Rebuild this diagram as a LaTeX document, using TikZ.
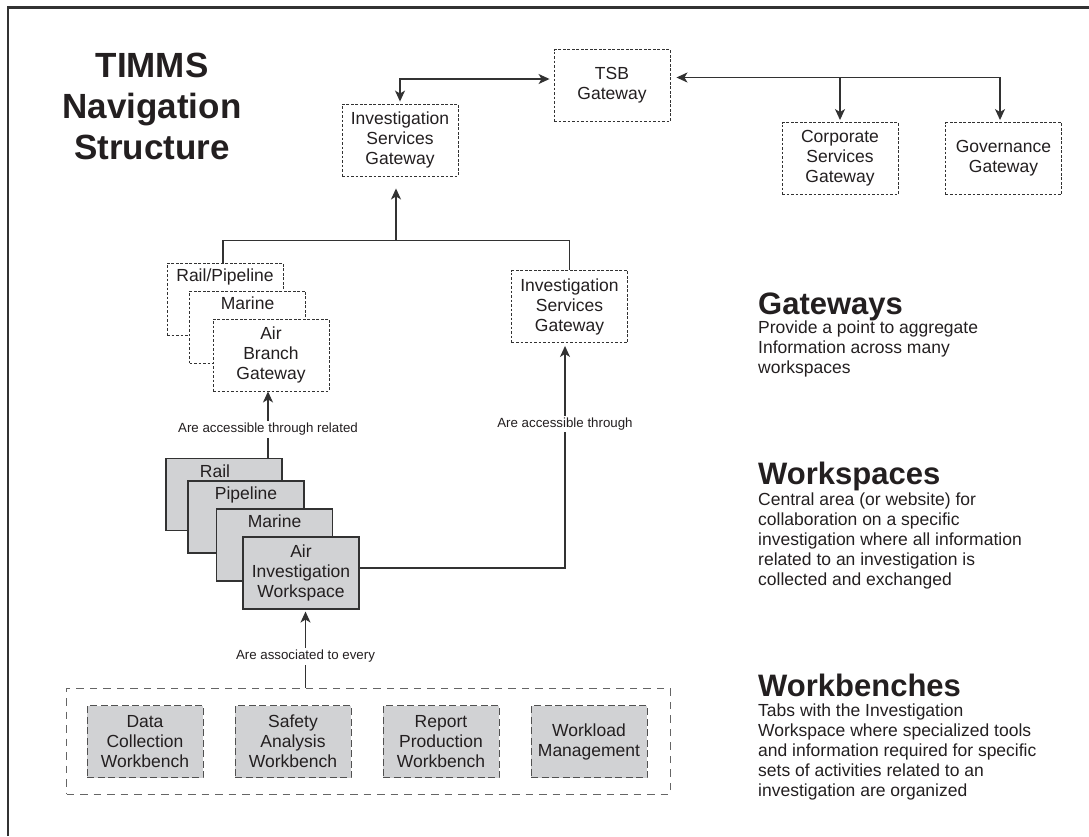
\documentclass[tikz,border=0pt]{standalone}
\usepackage{fontspec}
\setmainfont{Liberation Sans}
\usetikzlibrary{arrows.meta, positioning, calc}
\definecolor{inkgray}{RGB}{35,31,32}
\definecolor{linegray}{RGB}{50,50,50}
\definecolor{wsfill}{RGB}{209,210,212}
\def\boxfont{\fontsize{17.5}{20}\selectfont}
\def\notefont{\fontsize{13.3}{15}\selectfont}
\def\tip{Stealth[length=11pt, width=10pt, inset=3pt]}
\tikzset{gate/.style={draw=linegray, line width=0.9pt, dash pattern=on 2.6pt off 1.9pt, fill=white,
  minimum width=116pt, minimum height=72pt, inner sep=0pt, align=center, font=\boxfont}}
\tikzset{wspace/.style={draw=linegray, line width=1.1pt, fill=wsfill,
  minimum width=116pt, minimum height=72pt, inner sep=0pt, align=center, font=\boxfont}}
\tikzset{benchbox/.style={draw=linegray!85, line width=1pt, dash pattern=on 7pt off 3.5pt, fill=wsfill,
  minimum width=116pt, minimum height=72pt, inner sep=0pt, align=center, font=\boxfont}}
\tikzset{tabtext/.style={font=\boxfont, inner sep=0pt}}
\tikzset{conn/.style={draw=linegray, line width=1.4pt}}
\tikzset{arr/.style={conn, -{\tip}, shorten >=2pt}}
\tikzset{twoway/.style={conn, {\tip}-{\tip}}}
\tikzset{note/.style={fill=white, inner sep=2pt, font=\notefont}}
\tikzset{head/.style={anchor=base west, inner sep=0pt, font=\bfseries\fontsize{31}{36}\selectfont}}
\tikzset{desc/.style={anchor=base west, inner sep=0pt, font=\boxfont}}

\begin{document}
\begin{tikzpicture}[x=1pt, y=-1pt, text=inkgray]
  \useasboundingbox (0,0) rectangle (1089,836);
  % Frame
  \draw[linegray, line width=2.2pt] (8,836) -- (8,7.5) -- (1089,7.5);

  % Title
  \node[font=\bfseries\fontsize{35}{41}\selectfont, align=center] (title) at (152,106)
    {TIMMS\\Navigation\\Structure};

  % Top gateways
  \node[gate] (tsb) at (612,85.5) {TSB\\Gateway};
  \node[gate] (isgtop) at (400,140) {Investigation\\Services\\Gateway};
  \node[gate] (corp) at (840,158.5) {Corporate\\Services\\Gateway};
  \node[gate] (gov) at (1003.5,158.5) {Governance\\Gateway};
  \coordinate (tsbport) at ([yshift=8pt]tsb.east);

  \draw[twoway, shorten <=2pt, shorten >=4pt] (isgtop.north) |- ([yshift=6.5pt]tsb.west);
  \draw[twoway, shorten <=6pt, shorten >=2pt] (tsbport) -| ([xshift=-3.5pt]gov.north);
  \draw[arr] (corp.north |- tsbport) -- (corp.north);

  % Branch gateways
  \node[gate] (gwrail) at (225,299) {};
  \node[tabtext, below=6pt of gwrail.north] (gwrail-t) {Rail/Pipeline};
  \node[gate] (gwmar) at (247.5,327) {};
  \node[tabtext, below=6pt of gwmar.north] (gwmar-t) {Marine};
  \node[gate] (gwair) at (271,355) {Air\\Branch\\Gateway};
  \node[gate] (isglow) at (569.5,306.5) {Investigation\\Services\\Gateway};

  \draw[conn] ([xshift=-2pt]gwrail.north) |- ($(isgtop.south)+(0,64)$) -| (isglow.north);
  \draw[arr, shorten >=12pt] ($(isgtop.south)+(-4,64)$) -- ($(isgtop.south)+(-4,0)$);

  % Workspaces
  \node[wspace] (wsrail) at (224,494.5) {};
  \node[tabtext, below=7pt of wsrail.north, xshift=-9pt] (wsrail-t) {Rail};
  \node[wspace] (wspipe) at (246,517) {};
  \node[tabtext, below=6pt of wspipe.north] (wspipe-t) {Pipeline};
  \node[wspace] (wsmar) at (274.5,545) {};
  \node[tabtext, below=6pt of wsmar.north] (wsmar-t) {Marine};
  \node[wspace] (wsair) at (301,573) {Air\\Investigation\\Workspace};

  \draw[arr, shorten >=0pt] (wsrail.north -| gwair.south) ++(-3,0) -- ([xshift=-3pt]gwair.south)
    node[note, pos=0.43] (lbl-related) {Are accessible through related};
  \draw[arr, shorten >=3pt] ([yshift=5pt]wsair.east) -| ([xshift=-4.5pt]isglow.south)
    node[note, pos=0.82] (lbl-through) {Are accessible through};

  % Workbenches
  \node[draw=linegray!75, line width=1pt, dash pattern=on 7.5pt off 6pt,
    minimum width=603.5pt, minimum height=106pt] (wbframe) at (368.25,741) {};
  \foreach \name/\txt [count=\i] in {collect/Data\\Collection\\Workbench,
      safety/Safety\\Analysis\\Workbench, report/Report\\Production\\Workbench,
      load/Workload\\Management}
    \node[benchbox] (wb-\name) at ({145+148*(\i-1)},741.5) {\txt};

  \draw[arr] ([xshift=4.5pt]wsair.south |- wbframe.north) -- ([xshift=4.5pt]wsair.south)
    node[note, pos=0.4] (lbl-every) {Are associated to every};

  % Legend
  \node[head] (gwhead) at (758,314) {Gateways};
  \foreach \ln [count=\i] in {Provide a point to aggregate, Information across many, workspaces}
    \node[desc] (gwdesc-\i) at (758,{313+20*\i}) {\ln};
  \node[head] (wshead) at (758,484) {Workspaces};
  \foreach \ln [count=\i] in {Central area (or website) for, collaboration on a specific,
      investigation where all information, related to an investigation is, collected and exchanged}
    \node[desc] (wsdesc-\i) at (758,{485+20*\i}) {\ln};
  \node[head] (wbhead) at (758,696) {Workbenches};
  \foreach \ln [count=\i] in {Tabs with the Investigation, Workspace where specialized tools,
      and information required for specific, sets of activities related to an,
      investigation are organized}
    \node[desc] (wbdesc-\i) at (758,{696+20*\i}) {\ln};
\end{tikzpicture}
\end{document}
